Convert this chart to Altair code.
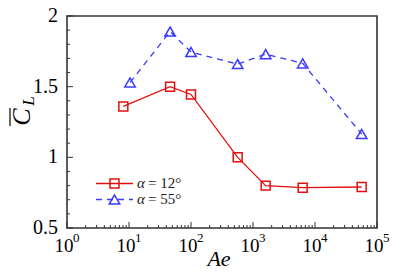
import altair as alt
import pandas as pd

# ---- data ----
ae_12 = [8.1, 46, 100, 566, 1600, 6330, 56600]
cl_12 = [1.36, 1.50, 1.445, 1.0, 0.80, 0.785, 0.79]
ae_55 = [10.4, 46, 100, 566, 1600, 6330, 56600]
cl_55 = [1.53, 1.89, 1.745, 1.66, 1.73, 1.665, 1.165]

x_major = [1, 10, 100, 1000, 10000, 100000]
x_exp = ["0", "1", "2", "3", "4", "5"]
x_minor = [m * 10 ** d for d in range(5) for m in range(2, 10)]
y_major = [0.5, 1.0, 1.5, 2.0]
y_labels = ["0.5", "1", "1.5", "2"]
y_minor = [0.6, 0.7, 0.8, 0.9, 1.1, 1.2, 1.3, 1.4, 1.6, 1.7, 1.8, 1.9]

legend_values = ["= 12°", "= 55°"]

RED = "#e01010"
BLUE = "#3a3aff"
FONT = "Liberation Serif"
W, H = 310, 212

df12 = pd.DataFrame({"Ae": ae_12, "CL": cl_12})
df55 = pd.DataFrame({"Ae": ae_55, "CL": cl_55})
dfxl = pd.DataFrame({"v": x_major, "base": ["10"] * len(x_major), "exp": x_exp})
dfyl = pd.DataFrame({"v": y_major, "lab": y_labels})
dfxmaj = pd.DataFrame({"v": x_major})
dfxmin = pd.DataFrame({"v": x_minor})
dfymaj = pd.DataFrame({"v": y_major})
dfymin = pd.DataFrame({"v": y_minor})

xs = alt.Scale(type="log", domain=[1, 100000], nice=False)
ys = alt.Scale(domain=[0.5, 2], nice=False, zero=False)

X = alt.X("Ae:Q", scale=xs, axis=None)
Y = alt.Y("CL:Q", scale=ys, axis=None)

line12 = alt.Chart(df12).mark_line(color=RED, strokeWidth=1.3).encode(x=X, y=Y)
pts12 = alt.Chart(df12).mark_point(shape="square", filled=False, size=80,
                                   color=RED, strokeWidth=1.5, opacity=1).encode(x=X, y=Y)
line55 = alt.Chart(df55).mark_line(color=BLUE, strokeWidth=1.3,
                                   strokeDash=[6, 5]).encode(x=X, y=Y)
pts55 = alt.Chart(df55).mark_point(shape="triangle-up", filled=False, size=110,
                                   color=BLUE, strokeWidth=1.5, opacity=1).encode(x=X, y=Y)

# inward ticks
xt = alt.X("v:Q", scale=xs, axis=None)
yt = alt.Y("v:Q", scale=ys, axis=None)
tick_col = "#333"
xmaj_t = alt.Chart(dfxmaj).mark_rule(color=tick_col, strokeWidth=1).encode(
    x=xt, y=alt.value(H), y2=alt.value(H - 6))
xmin_t = alt.Chart(dfxmin).mark_rule(color=tick_col, strokeWidth=1).encode(
    x=xt, y=alt.value(H), y2=alt.value(H - 3))
ymaj_t = alt.Chart(dfymaj).mark_rule(color=tick_col, strokeWidth=1).encode(
    y=yt, x=alt.value(0), x2=alt.value(6))
ymin_t = alt.Chart(dfymin).mark_rule(color=tick_col, strokeWidth=1).encode(
    y=yt, x=alt.value(0), x2=alt.value(3))

# tick labels
xl_base = alt.Chart(dfxl).mark_text(font=FONT, fontSize=19, align="center",
                                    baseline="alphabetic", dx=-3, color="black").encode(
    x=xt, y=alt.value(H + 24), text="base:N")
xl_exp = alt.Chart(dfxl).mark_text(font=FONT, fontSize=13, align="left",
                                   baseline="alphabetic", dx=6, color="black").encode(
    x=xt, y=alt.value(H + 14), text="exp:N")
yl = alt.Chart(dfyl).mark_text(font=FONT, fontSize=20, align="right",
                               baseline="middle", color="black").encode(
    y=yt, x=alt.value(-9), text="lab:N")

# axis titles
xtitle = alt.Chart(pd.DataFrame({"t": ["Ae"]})).mark_text(
    font=FONT, fontSize=22, fontStyle="italic", align="center", baseline="alphabetic",
    color="black").encode(x=alt.value(152), y=alt.value(H + 38), text="t:N")
ytitle_c = alt.Chart(pd.DataFrame({"t": ["C"]})).mark_text(
    font=FONT, fontSize=26, fontStyle="italic", align="center", baseline="alphabetic",
    angle=270, color="black").encode(x=alt.value(-37), y=alt.value(101), text="t:N")
ytitle_l = alt.Chart(pd.DataFrame({"t": ["L"]})).mark_text(
    font=FONT, fontSize=17, fontStyle="italic", align="center", baseline="alphabetic",
    angle=270, color="black").encode(x=alt.value(-33), y=alt.value(85), text="t:N")
ytitle_bar = alt.Chart(pd.DataFrame({"t": [1]})).mark_rule(
    color="black", strokeWidth=1.2).encode(
    x=alt.value(-57), y=alt.value(92), y2=alt.value(110))

# legend (manual)
one = pd.DataFrame({"t": [1]})
leg_line1 = alt.Chart(one).mark_rule(color=RED, strokeWidth=1.3).encode(
    x=alt.value(29), x2=alt.value(66), y=alt.value(167.5))
leg_pt1 = alt.Chart(one).mark_point(
    shape="square", filled=False, size=80, color=RED, strokeWidth=1.5, opacity=1).encode(
    x=alt.value(47.5), y=alt.value(167.5))
leg_line2 = alt.Chart(one).mark_rule(color=BLUE, strokeWidth=1.3, strokeDash=[6, 5]).encode(
    x=alt.value(29), x2=alt.value(66), y=alt.value(183.5))
leg_pt2 = alt.Chart(one).mark_point(
    shape="triangle-up", filled=False, size=110, color=BLUE, strokeWidth=1.5, opacity=1).encode(
    x=alt.value(47.5), y=alt.value(183.5))
dfleg = pd.DataFrame({"a": ["α", "α"], "t": legend_values, "yy": [172, 188]})
leg_alpha = alt.Chart(dfleg).mark_text(
    font=FONT, fontSize=15, fontStyle="italic", align="left", baseline="alphabetic",
    color="#222").encode(x=alt.value(70), y=alt.Y("yy:Q", scale=None), text="a:N")
leg_txt = alt.Chart(dfleg).mark_text(
    font=FONT, fontSize=15, align="left", baseline="alphabetic", color="#222").encode(
    x=alt.value(81), y=alt.Y("yy:Q", scale=None), text="t:N")

chart = alt.layer(
    xmin_t, xmaj_t, ymin_t, ymaj_t,
    line55, pts55, line12, pts12,
    xl_base, xl_exp, yl, xtitle, ytitle_c, ytitle_l, ytitle_bar,
    leg_line1, leg_pt1, leg_line2, leg_pt2, leg_alpha, leg_txt,
).properties(
    width=W, height=H,
    autosize=alt.AutoSizeParams(type="none"),
    padding={"left": 59, "top": 8, "right": 30, "bottom": 45},
    background="white",
).configure_view(stroke="#333", strokeWidth=1.6)

chart.save("out.html", embed_options={"renderer": "svg", "actions": False})
